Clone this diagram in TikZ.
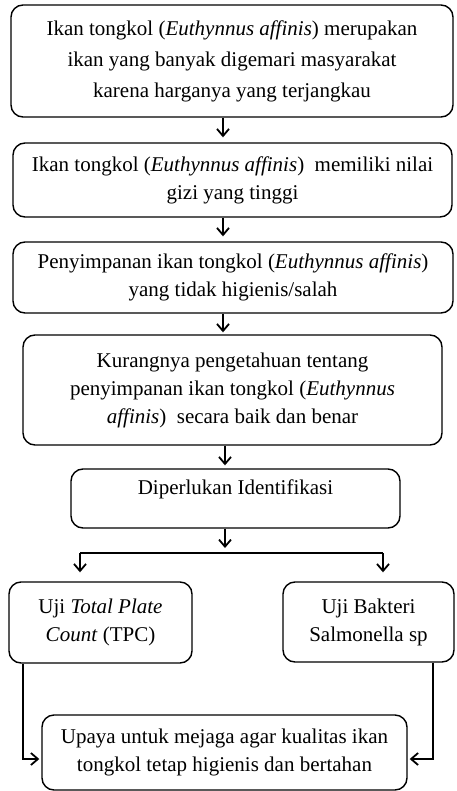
\documentclass[tikz,border=0pt]{standalone}
\usepackage{fontspec}
\setmainfont{Liberation Serif}
\usetikzlibrary{arrows.meta}
\begin{document}
\begin{tikzpicture}[x=1pt,y=-1pt,
  box/.style={draw, line width=1.4pt, rounded corners=12pt, align=center, inner sep=0pt,
    font=\fontsize{21}{28}\selectfont},
  arr/.style={-{Straight Barb[length=7pt,width=12pt,line width=1.8pt]}, line width=1.7pt},
  ln/.style={line width=1.7pt}]
\useasboundingbox (0,0) rectangle (456,791);
\node[box, minimum width=442pt, minimum height=112pt, font=\fontsize{21}{31}\selectfont] (b1) at (232,61)
  {Ikan tongkol (\textit{Euthynnus affinis}) merupakan\\ ikan yang banyak digemari masyarakat\\ karena harganya yang terjangkau};
\node[box, minimum width=439pt, minimum height=74pt] (b2) at (232.5,180)
  {Ikan tongkol (\textit{Euthynnus affinis})\ \ memiliki nilai\\ gizi yang tinggi};
\node[box, minimum width=440pt, minimum height=71pt] (b3) at (233,277.5)
  {Penyimpanan ikan tongkol (\textit{Euthynnus affinis})\\ yang tidak higienis/salah};
\node[box, minimum width=419pt, minimum height=110pt] (b4) at (232.5,390)
  {Kurangnya pengetahuan tentang\\ penyimpanan ikan tongkol (\textit{Euthynnus}\\ \textit{affinis})\ \ secara baik dan benar};
\node[box, minimum width=329pt, minimum height=59pt, align=center] (b5) at (235.5,498.5)
  {Diperlukan Identifikasi\\[-14pt]\strut};
\node[box, minimum width=183pt, minimum height=81pt] (tpc) at (100.5,622.5)
  {Uji \textit{Total Plate}\\ \textit{Count} (TPC)};
\node[box, minimum width=171pt, minimum height=80pt] (sal) at (368.5,622)
  {Uji Bakteri\\ Salmonella sp};
\node[box, minimum width=365pt, minimum height=75pt] (bot) at (224.5,752.5)
  {Upaya untuk mejaga agar kualitas ikan\\ tongkol tetap higienis dan bertahan};
\coordinate (ax) at (223,0);
\coordinate (bx) at (225,0);
\coordinate (hl) at (80,553);
\coordinate (hr) at (383,553);
\coordinate (lx) at (23,759);
\coordinate (rx) at (433,759);
\draw[arr, shorten >=5pt] (b1.south -| ax) -- (b2.north -| ax);
\draw[arr, shorten >=5pt] (b2.south -| ax) -- (b3.north -| ax);
\draw[arr, shorten >=2pt] (b3.south -| ax) -- (b4.north -| ax);
\draw[arr, shorten >=3pt] (b4.south -| bx) -- (b5.north -| bx);
\draw[arr, shorten >=5pt] (b5.south -| bx) -- (hl -| bx);
\draw[ln] (hl) -- (hr);
\draw[arr, shorten >=9pt] (hl) -- (tpc.north -| hl);
\draw[arr, shorten >=9pt] (hr) -- (sal.north -| hr);
\draw[arr, shorten >=2pt] (tpc.south -| lx) -- (lx) -- (bot.west |- lx);
\draw[arr, shorten >=2pt] (sal.south -| rx) -- (rx) -- (bot.east |- rx);
\end{tikzpicture}
\end{document}
